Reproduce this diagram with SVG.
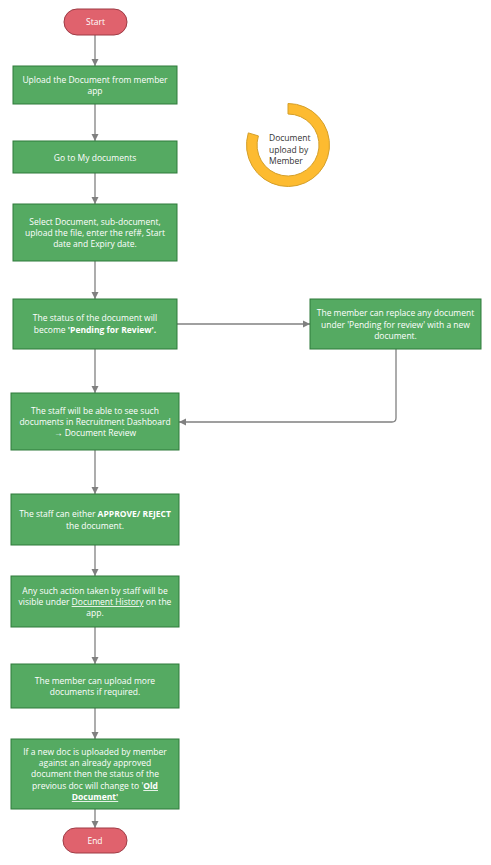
<svg xmlns="http://www.w3.org/2000/svg" width="491" height="865" viewBox="0 0 491 865">
<defs>
<style>
.box{fill:#55aa62;stroke:#2f7a3a;stroke-width:1}
.term{fill:#e0626d;stroke:#9e3b45;stroke-width:1}
.t{font-family:"Open Sans","Liberation Sans",sans-serif;font-size:8.5px;fill:#ffffff;text-anchor:middle}
.b{font-weight:bold}
.u{text-decoration:underline}
.c{fill:none;stroke:#808080;stroke-width:1.3}
.lbl{font-family:"Open Sans","Liberation Sans",sans-serif;font-size:8.5px;fill:#333333}
</style>
<marker id="ah" markerWidth="8" markerHeight="8" refX="7" refY="4" orient="auto" markerUnits="userSpaceOnUse">
<path d="M0,0.5 L7,4 L0,7.5 Z" fill="#808080"/>
</marker>
</defs>
<rect width="491" height="865" fill="#ffffff"/>
<g id="connectors">
<line class="c" x1="95" y1="35" x2="95" y2="66" marker-end="url(#ah)"/>
<line class="c" x1="95" y1="104" x2="95" y2="141" marker-end="url(#ah)"/>
<line class="c" x1="95" y1="173" x2="95" y2="204" marker-end="url(#ah)"/>
<line class="c" x1="95" y1="261" x2="95" y2="299" marker-end="url(#ah)"/>
<line class="c" x1="95" y1="349" x2="95" y2="393" marker-end="url(#ah)"/>
<line class="c" x1="95" y1="450" x2="95" y2="494" marker-end="url(#ah)"/>
<line class="c" x1="95" y1="545" x2="95" y2="576" marker-end="url(#ah)"/>
<line class="c" x1="95" y1="627" x2="95" y2="664" marker-end="url(#ah)"/>
<line class="c" x1="95" y1="708" x2="95" y2="739" marker-end="url(#ah)"/>
<line class="c" x1="95" y1="809" x2="95" y2="828" marker-end="url(#ah)"/>
<line class="c" x1="177" y1="324" x2="310" y2="324" marker-end="url(#ah)"/>
<path class="c" d="M396,349 L396,418 Q396,422 392,422 L179,422" marker-end="url(#ah)"/>
</g>
<g id="start">
<rect class="term" x="64" y="9" width="63" height="26" rx="13"/>
<text class="t" x="95.5" y="25">Start</text>
</g>
<g id="n1">
<rect class="box" x="13" y="66" width="164" height="38"/>
<text class="t" x="95" y="83">Upload the Document from member</text>
<text class="t" x="95" y="94">app</text>
</g>
<g id="n2">
<rect class="box" x="13" y="141" width="164" height="32"/>
<text class="t" x="95" y="161">Go to My documents</text>
</g>
<g id="n3">
<rect class="box" x="13" y="204" width="164" height="57"/>
<text class="t" x="95" y="225">Select Document, sub-document,</text>
<text class="t" x="95" y="236">upload the file, enter the ref#, Start</text>
<text class="t" x="95" y="247">date and Expiry date.</text>
</g>
<g id="n4">
<rect class="box" x="13" y="299" width="164" height="50"/>
<text class="t" x="95" y="321">The status of the document will</text>
<text class="t" x="95" y="333">become <tspan class="b">'Pending for Review'.</tspan></text>
</g>
<g id="side">
<rect class="box" x="310" y="299" width="171" height="50"/>
<text class="t" x="395.5" y="316">The member can replace any document</text>
<text class="t" x="395.5" y="328">under 'Pending for review' with a new</text>
<text class="t" x="395.5" y="339">document.</text>
</g>
<g id="n5">
<rect class="box" x="11" y="393" width="168" height="57"/>
<text class="t" x="95" y="414">The staff will be able to see such</text>
<text class="t" x="95" y="425">documents in Recruitment Dashboard</text>
<text class="t" x="95" y="436">→ Document Review</text>
</g>
<g id="n6">
<rect class="box" x="11" y="494" width="168" height="51"/>
<text class="t" x="95" y="517">The staff can either <tspan class="b">APPROVE/ REJECT</tspan></text>
<text class="t" x="95" y="529">the document.</text>
</g>
<g id="n7">
<rect class="box" x="11" y="576" width="168" height="51"/>
<text class="t" x="95" y="594">Any such action taken by staff will be</text>
<text class="t" x="95" y="605">visible under <tspan class="u">Document History</tspan> on the</text>
<text class="t" x="95" y="616">app.</text>
</g>
<g id="n8">
<rect class="box" x="11" y="664" width="168" height="44"/>
<text class="t" x="95" y="684">The member can upload more</text>
<text class="t" x="95" y="695">documents if required.</text>
</g>
<g id="n9">
<rect class="box" x="11" y="739" width="168" height="70"/>
<text class="t" x="95" y="755">If a new doc is uploaded by member</text>
<text class="t" x="95" y="766">against an already approved</text>
<text class="t" x="95" y="777">document then the status of the</text>
<text class="t" x="95" y="789">previous doc will change to '<tspan class="b u">Old</tspan></text>
<text class="t" x="95" y="800"><tspan class="b u">Document'</tspan></text>
</g>
<g id="end">
<rect class="term" x="63" y="828" width="64" height="25" rx="12.5"/>
<text class="t" x="95" y="844">End</text>
</g>
<g id="ring">
<path d="M288,103.5 A41.5,41.5 0 1 1 248.3,132.9 L258.4,135.9 A31,31 0 1 0 288,114 Z" fill="#fdbb30" stroke="#d49f2a" stroke-width="1"/>
<text class="lbl" x="269" y="141">Document</text>
<text class="lbl" x="269" y="153">upload by</text>
<text class="lbl" x="269" y="164">Member</text>
</g>
</svg>
